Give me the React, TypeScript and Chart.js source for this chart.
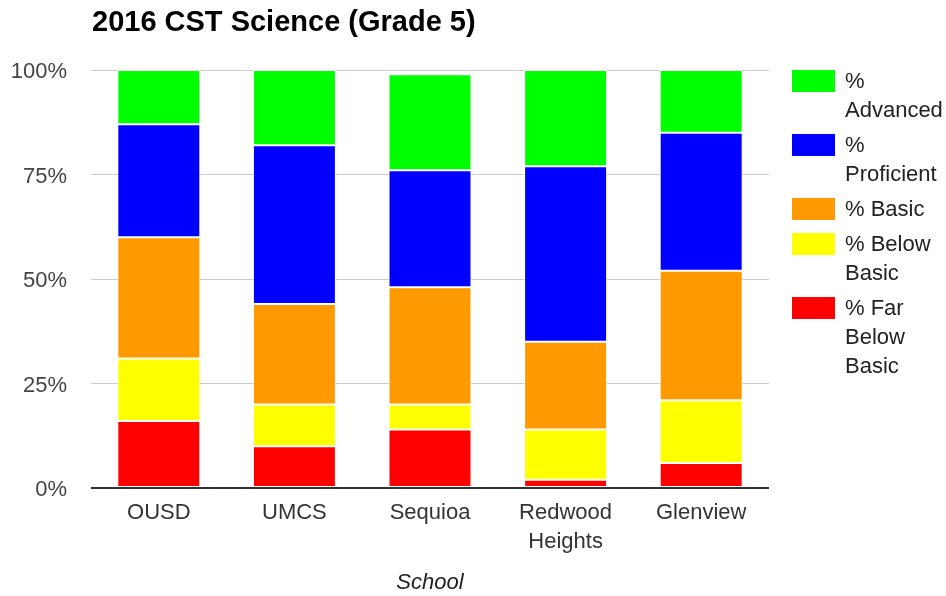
import React, { useEffect, useRef } from "react";
import { Chart, registerables } from "chart.js";

Chart.register(...registerables);

const schools: (string | string[])[] = ["OUSD", "UMCS", "Sequioa", ["Redwood", "Heights"], "Glenview"];
const farBelowBasic = [16, 10, 14, 2, 6];
const belowBasic = [15, 10, 6, 12, 15];
const basic = [29, 24, 28, 21, 31];
const proficient = [27, 38, 28, 42, 33];
const advanced = [13, 18, 23, 23, 15];
const yTicks = [0, 25, 50, 75, 100];

const seriesNames = ["% Far Below Basic", "% Below Basic", "% Basic", "% Proficient", "% Advanced"];
const seriesColors = ["#ff0000", "#ffff00", "#ff9900", "#0000ff", "#00ff00"];
const seriesValues = [farBelowBasic, belowBasic, basic, proficient, advanced];

const FONT = '"Liberation Sans", Arial, sans-serif';

export default function App() {
  const canvasRef = useRef<HTMLCanvasElement | null>(null);

  useEffect(() => {
    document.body.style.margin = "0";
    const canvas = canvasRef.current;
    if (!canvas) return;
    const chart = new Chart(canvas, {
      type: "bar",
      data: {
        labels: schools,
        datasets: seriesNames.map((name, i) => ({
          label: name,
          data: seriesValues[i],
          backgroundColor: seriesColors[i],
          borderColor: "rgba(255,255,255,0.85)",
          borderWidth: 1,
          borderSkipped: false,
          barPercentage: 1,
          categoryPercentage: 0.612,
        })),
      },
      options: {
        animation: false,
        responsive: false,
        maintainAspectRatio: false,
        layout: { padding: { top: 70, right: 177, bottom: 0, left: 0 } },
        plugins: {
          legend: { display: false },
          title: { display: false },
          tooltip: { enabled: false },
        },
        scales: {
          x: {
            stacked: true,
            grid: { display: false, drawTicks: false },
            border: { display: false },
            ticks: {
              color: "#333",
              padding: 10,
              font: { family: FONT, size: 22, lineHeight: 1.32 },
              maxRotation: 0,
              autoSkip: false,
            },
            title: {
              display: true,
              text: "School",
              color: "#222",
              padding: { top: 0, bottom: 0 },
              font: { family: FONT, size: 22, style: "italic", lineHeight: 1.2 },
            },
            afterFit: (scale: any) => {
              scale.height = 108;
            },
          },
          y: {
            stacked: true,
            min: 0,
            max: 100,
            afterBuildTicks: (scale: any) => {
              scale.ticks = yTicks.map((v) => ({ value: v }));
            },
            grid: {
              drawTicks: false,
              color: (ctx: any) => (ctx.tick && ctx.tick.value === 0 ? "#333" : "#cccccc"),
              lineWidth: (ctx: any) => (ctx.tick && ctx.tick.value === 0 ? 2 : 1),
            },
            border: { display: false },
            ticks: {
              color: "#444",
              padding: 24,
              labelOffset: 2,
              font: { family: FONT, size: 22 },
              callback: (v: any) => v + "%",
            },
            afterFit: (scale: any) => {
              scale.width = 91;
            },
          },
        },
      },
    });
    return () => chart.destroy();
  }, []);

  const legendOrder = [4, 3, 2, 1, 0];

  return (
    <div style={{ position: "relative", width: 946, height: 596, background: "#fff", fontFamily: FONT }}>
      <canvas ref={canvasRef} width={946} height={596} style={{ display: "block", width: 946, height: 596 }} />
      <div
        style={{
          position: "absolute",
          left: 92,
          top: 6.5,
          fontSize: 29,
          lineHeight: "29px",
          fontWeight: "bold",
          color: "#000",
          whiteSpace: "nowrap",
        }}
      >
        2016 CST Science (Grade 5)
      </div>
      <div style={{ position: "absolute", left: 792, top: 66, width: 154 }}>
        {legendOrder.map((i) => (
          <div key={i} style={{ position: "relative", marginBottom: 6, minHeight: 29 }}>
            <div
              style={{
                position: "absolute",
                left: 0,
                top: 3.5,
                width: 43,
                height: 22,
                background: seriesColors[i],
              }}
            />
            <div
              style={{
                marginLeft: 53,
                width: 101,
                fontSize: 22,
                lineHeight: "29px",
                color: "#222",
              }}
            >
              {seriesNames[i]}
            </div>
          </div>
        ))}
      </div>
    </div>
  );
}
